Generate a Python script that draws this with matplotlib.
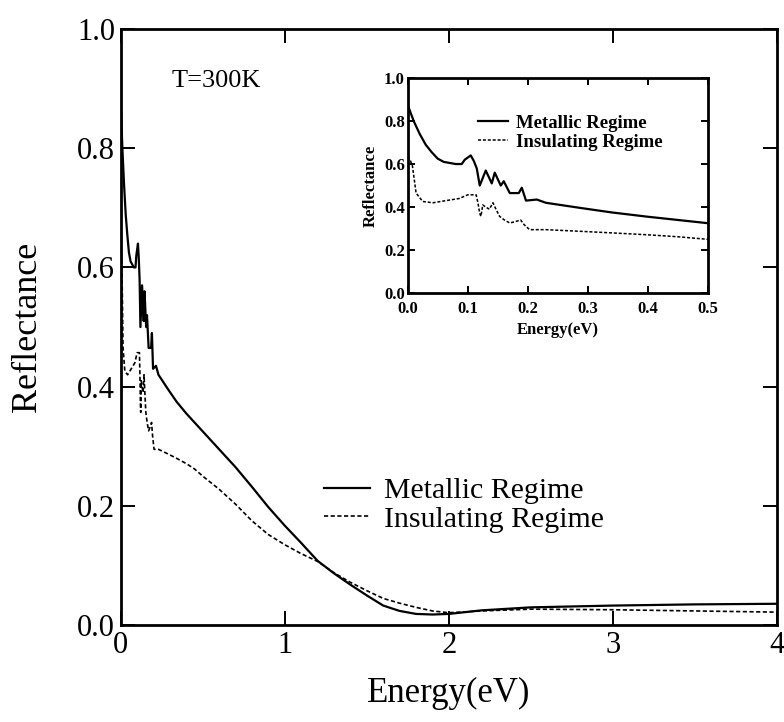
#!/usr/bin/env python3

# reflectance of the sample at room temperature, metallic vs insulating
# regime, with a zoom of the far-infrared part as an inset

import matplotlib
matplotlib.use("Agg")
import matplotlib.pyplot as plt
import numpy as np

plt.rcParams['font.family'] = ['Liberation Serif', 'DejaVu Serif']
plt.rcParams['mathtext.fontset'] = 'stix'

# low energy part (eV)
e_low_met = [0.0, 0.01, 0.02, 0.03, 0.04, 0.05, 0.06, 0.07, 0.08, 0.09,
             0.095, 0.1, 0.105, 0.11, 0.115, 0.12, 0.13, 0.14, 0.145,
             0.155, 0.16, 0.17, 0.185, 0.19, 0.197, 0.215, 0.23, 0.29,
             0.34, 0.40, 0.45, 0.5]
r_low_met = [0.875, 0.80, 0.74, 0.69, 0.655, 0.625, 0.61, 0.605, 0.60, 0.60,
             0.62, 0.63, 0.64, 0.615, 0.58, 0.50, 0.57, 0.51, 0.56,
             0.50, 0.52, 0.465, 0.465, 0.49, 0.43, 0.435, 0.42, 0.395,
             0.375, 0.355, 0.34, 0.325]

e_low_ins = [0.0, 0.004, 0.008, 0.014, 0.025, 0.042, 0.064, 0.086, 0.1,
             0.114, 0.117, 0.12, 0.122, 0.125, 0.13, 0.136, 0.142, 0.147,
             0.153, 0.161, 0.17, 0.18, 0.188, 0.194, 0.203, 0.23, 0.29,
             0.34, 0.40, 0.45, 0.5]
r_low_ins = [0.635, 0.62, 0.59, 0.465, 0.426, 0.42, 0.43, 0.44, 0.457,
             0.457, 0.42, 0.37, 0.357, 0.41, 0.40, 0.39, 0.42, 0.39,
             0.357, 0.34, 0.326, 0.333, 0.34, 0.318, 0.295, 0.295, 0.287,
             0.28, 0.271, 0.262, 0.25]

# higher energy part
e_high = [0.6, 0.7, 0.8, 0.9, 1.0, 1.1, 1.2, 1.3, 1.4, 1.5, 1.6, 1.7,
          1.8, 1.9, 2.0, 2.2, 2.5, 3.0, 3.5, 4.0]
r_high_met = [0.295, 0.265, 0.232, 0.198, 0.167, 0.138, 0.108, 0.087,
              0.068, 0.05, 0.033, 0.024, 0.019, 0.018, 0.019, 0.025,
              0.03, 0.033, 0.035, 0.036]
r_high_ins = [0.228, 0.203, 0.175, 0.152, 0.135, 0.12, 0.107, 0.088,
              0.072, 0.058, 0.045, 0.037, 0.03, 0.024, 0.021, 0.024,
              0.027, 0.026, 0.024, 0.022]

main_xticks = [0, 1, 2, 3, 4]
main_yticks = [0.0, 0.2, 0.4, 0.6, 0.8, 1.0]
inset_xticks = [0.0, 0.1, 0.2, 0.3, 0.4, 0.5]
inset_yticks = [0.0, 0.2, 0.4, 0.6, 0.8, 1.0]

e_met = np.array(e_low_met + e_high)
r_met = np.array(r_low_met + r_high_met)
e_ins = np.array(e_low_ins + e_high)
r_ins = np.array(r_low_ins + r_high_ins)

fig = plt.figure(figsize=(7.84, 7.22), dpi=100)
ax = fig.add_axes([0.154, 0.134, 0.837, 0.826])

ax.plot(e_met, r_met, color="k", lw=1.6, label="Metallic Regime")
ax.plot(e_ins, r_ins, color="k", lw=1.2, ls=(0, (2.5, 1.5)),
        label="Insulating Regime")

ax.set_xlim(0, 4)
ax.set_ylim(0, 1)
ax.set_xticks(main_xticks)
ax.set_xticklabels(["%d" % t for t in main_xticks])
ax.set_yticks(main_yticks)
ax.set_yticklabels(["%.1f" % t for t in main_yticks])
ax.tick_params(direction="in", length=10, width=1.4, top=True, right=True,
               labelsize=22, pad=4)
for s in ax.spines.values():
    s.set_linewidth(2)
ax.set_xlabel("Energy(eV)", fontsize=25, labelpad=12)
ax.set_ylabel("Reflectance", fontsize=26, labelpad=24)
ax.text(0.078, 0.913, "T=300K", transform=ax.transAxes, fontsize=19,
        va="center", ha="left")

ax.legend(loc="upper left", bbox_to_anchor=(0.31, 0.248), frameon=False,
          fontsize=21.5, handlelength=1.55, handletextpad=0.45,
          borderpad=0, borderaxespad=0, labelspacing=0.05)

# inset
axi = fig.add_axes([0.520, 0.594, 0.383, 0.298])
axi.plot(e_met, r_met, color="k", lw=1.6, label="Metallic Regime")
axi.plot(e_ins, r_ins, color="k", lw=1.1, ls=(0, (2, 1.2)),
         label="Insulating Regime")
axi.set_xlim(0, 0.5)
axi.set_ylim(0, 1)
axi.set_xticks(inset_xticks)
axi.set_xticklabels(["%.1f" % t for t in inset_xticks])
axi.set_yticks(inset_yticks)
axi.set_yticklabels(["%.1f" % t for t in inset_yticks])
axi.tick_params(direction="in", length=5, width=1.4, top=True, right=True,
                labelsize=12, pad=2)
axi.tick_params(axis="x", pad=5.5)
for lab in axi.get_xticklabels() + axi.get_yticklabels():
    lab.set_fontweight("bold")
for s in axi.spines.values():
    s.set_linewidth(2)
axi.set_xlabel("Energy(eV)", fontsize=12, fontweight="bold", labelpad=4)
axi.set_ylabel("Reflectance", fontsize=12, fontweight="bold", labelpad=4)
axi.legend(loc="upper left", bbox_to_anchor=(0.235, 0.83), frameon=False,
           prop={"size": 13.5, "weight": "bold"}, handlelength=1.6,
           handletextpad=0.4, borderpad=0, borderaxespad=0, labelspacing=0.1)

fig.savefig("out.png", dpi=100)
